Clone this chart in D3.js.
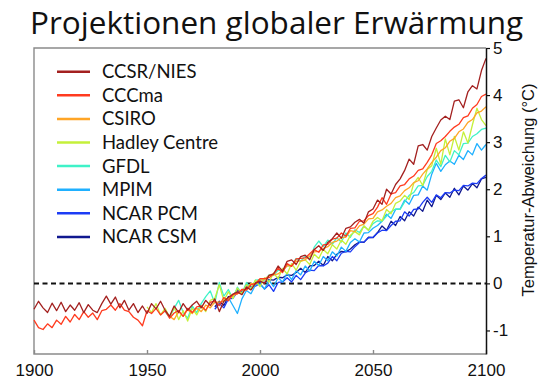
<!DOCTYPE html>
<html>
<head>
<meta charset="utf-8">
<script src="https://cdn.jsdelivr.net/npm/d3@7"></script>
<style>
  body { margin: 0; background: #fff; }
  svg { display: block; }
</style>
</head>
<body>
<div id="chart"></div>
<script>
// model names and colours, legend order
const models = ['CCSR/NIES', 'CCCma', 'CSIRO', 'Hadley Centre', 'GFDL', 'MPIM', 'NCAR PCM', 'NCAR CSM'];
const colors = ['#a3201f', '#ff3b1f', '#ffa526', '#c5f03a', '#3ff2c8', '#1fb0ff', '#1c3cf5', '#10188f'];

// first year of each run, values every 2 years (deg C)
const startYears = [1900, 1900, 1960, 1950, 1958, 1986, 1980, 1980];

const ccsrNies = [
  -0.55, -0.38, -0.52, -0.62, -0.42, -0.58, -0.40, -0.60, -0.46, -0.57,
  -0.41, -0.62, -0.45, -0.57, -0.62, -0.43, -0.27, -0.44, -0.29, -0.52,
  -0.36, -0.57, -0.43, -0.62, -0.48, -0.64, -0.43, -0.54, -0.38, -0.57,
  -0.70, -0.48, -0.62, -0.43, -0.57, -0.46, -0.38, -0.52, -0.36, -0.47,
  -0.33, -0.60, -0.38, -0.30, -0.23, -0.18, -0.24, -0.08, -0.14, 0.00,
  0.05, 0.00, 0.17, 0.20, 0.37, 0.26, 0.47, 0.50, 0.40, 0.57,
  0.60, 0.50, 0.72, 0.80, 0.70, 0.87, 0.95, 1.07, 0.96, 1.17,
  1.20, 1.30, 1.36, 1.28, 1.52, 1.58, 1.77, 1.68, 2.00, 1.90,
  2.10, 2.22, 2.40, 2.64, 2.53, 2.92, 2.95, 2.83, 3.12, 3.30,
  3.47, 3.55, 3.48, 3.87, 3.90, 3.73, 4.07, 4.20, 4.13, 4.52,
  4.78
];
const cccma = [
  -0.78, -0.94, -0.98, -0.86, -0.94, -0.78, -0.87, -0.70, -0.82, -0.66,
  -0.77, -0.60, -0.72, -0.63, -0.77, -0.58, -0.55, -0.46, -0.57, -0.43,
  -0.57, -0.60, -0.72, -0.78, -0.90, -0.58, -0.64, -0.53, -0.67, -0.58,
  -0.74, -0.63, -0.58, -0.70, -0.53, -0.62, -0.50, -0.48, -0.57, -0.40,
  -0.38, -0.47, -0.30, -0.37, -0.23, -0.22, -0.13, -0.14, -0.03, 0.00,
  0.10, 0.10, 0.12, 0.20, 0.32, 0.23, 0.42, 0.36, 0.52, 0.53,
  0.54, 0.63, 0.72, 0.66, 0.82, 0.83, 0.94, 0.96, 1.07, 1.00,
  1.17, 1.18, 1.32, 1.33, 1.44, 1.48, 1.62, 1.82, 1.68, 1.90,
  1.93, 2.07, 2.10, 2.22, 2.28, 2.40, 2.43, 2.57, 2.73, 2.97,
  3.03, 3.12, 3.23, 3.32, 3.38, 3.52, 3.56, 3.72, 3.80, 3.97,
  4.02
];
const csiro = [
  -0.70, -0.77, -0.60, -0.70, -0.56, -0.64, -0.53, -0.60, -0.46, -0.52,
  -0.40, -0.40, -0.38, -0.32, -0.26, -0.22, -0.13, -0.14, 0.00, -0.02,
  0.07, 0.08, 0.17, 0.18, 0.20, 0.28, 0.37, 0.38, 0.47, 0.48,
  0.50, 0.58, 0.67, 0.68, 0.74, 0.78, 0.87, 0.90, 0.97, 0.98,
  1.12, 1.10, 1.22, 1.26, 1.37, 1.38, 1.52, 1.56, 1.64, 1.70,
  1.82, 1.86, 1.97, 2.03, 2.14, 2.18, 2.32, 2.43, 2.57, 2.68,
  2.82, 2.88, 3.02, 3.08, 3.22, 3.28, 3.42, 3.48, 3.62, 3.66,
  3.75
];
const hadley = [
  -0.50, -0.62, -0.43, -0.67, -0.53, -0.72, -0.50, -0.77, -0.58, -0.80,
  -0.53, -0.67, -0.48, -0.60, -0.36, -0.32, -0.03, -0.37, -0.18, -0.32,
  -0.10, -0.22, -0.03, -0.12, 0.07, -0.07, 0.12, 0.03, 0.22, 0.10,
  0.32, 0.20, 0.42, 0.28, 0.47, 0.50, 0.40, 0.62, 0.53, 0.72,
  0.63, 0.82, 0.73, 0.92, 0.83, 1.02, 1.10, 1.03, 1.22, 1.13,
  1.32, 1.40, 1.33, 1.57, 1.48, 1.70, 1.75, 1.87, 1.78, 2.12,
  2.25, 2.08, 2.42, 2.50, 2.87, 2.53, 3.07, 2.73, 3.12, 2.83,
  3.22, 2.98, 3.37, 3.72, 3.48, 3.35
];
const gfdl = [
  -0.60, -0.72, -0.53, -0.36, -0.62, -0.74, -0.48, -0.62, -0.43, -0.28,
  -0.16, -0.42, 0.02, -0.27, -0.13, -0.32, -0.08, -0.22, 0.02, -0.12,
  0.07, 0.08, 0.07, 0.18, 0.17, 0.28, 0.27, 0.38, 0.37, 0.53,
  0.47, 0.58, 0.52, 0.77, 0.90, 0.78, 0.92, 0.83, 0.97, 0.88,
  1.07, 0.98, 1.14, 1.08, 1.22, 1.13, 1.27, 1.33, 1.32, 1.43,
  1.52, 1.58, 1.57, 1.73, 1.87, 1.93, 2.07, 2.08, 2.27, 2.38,
  2.62, 2.48, 2.72, 2.58, 2.82, 2.73, 2.97, 2.98, 3.12, 3.18,
  3.27, 3.30
];
const mpim = [
  -0.30, -0.47, -0.64, -0.33, -0.15, -0.22, -0.03, -0.02, -0.12, 0.07,
  -0.07, 0.12, 0.03, 0.22, 0.08, 0.27, 0.18, 0.37, 0.26, 0.47,
  0.38, 0.57, 0.48, 0.67, 0.58, 0.77, 0.68, 0.87, 0.95, 0.88,
  1.07, 1.08, 1.17, 1.23, 1.32, 1.47, 1.38, 1.57, 1.58, 1.77,
  1.68, 1.87, 1.88, 2.07, 1.98, 2.32, 2.55, 2.38, 2.52, 2.60,
  2.53, 2.72, 2.63, 2.82, 2.73, 2.97, 2.83, 2.95
];
const ncarPcm = [
  -0.55, -0.43, -0.52, -0.33, -0.32, -0.18, -0.17, -0.08, -0.07, -0.06,
  0.00, -0.12, -0.03, -0.17, 0.02, 0.03, 0.12, 0.03, 0.17, 0.08,
  0.22, 0.28, 0.27, 0.38, 0.37, 0.43, 0.57, 0.48, 0.64, 0.68,
  0.67, 0.78, 0.87, 0.88, 0.97, 0.98, 1.07, 1.13, 1.12, 1.23,
  1.32, 1.33, 1.52, 1.43, 1.57, 1.58, 1.72, 1.83, 1.72, 1.88,
  1.82, 1.93, 1.92, 1.98, 1.97, 2.08, 2.07, 2.13, 2.12, 2.23,
  2.30
];
const ncarCsm = [
  -0.50, -0.38, -0.47, -0.28, -0.27, -0.13, -0.22, -0.03, -0.12, 0.02,
  0.03, 0.02, 0.08, 0.07, 0.13, 0.12, 0.18, 0.17, 0.23, 0.32,
  0.23, 0.37, 0.38, 0.47, 0.38, 0.57, 0.48, 0.62, 0.68, 0.67,
  0.73, 0.82, 0.88, 0.87, 0.98, 0.97, 1.08, 1.22, 1.13, 1.32,
  1.23, 1.42, 1.33, 1.52, 1.43, 1.62, 1.53, 1.77, 1.63, 1.87,
  1.78, 1.92, 1.83, 2.02, 1.88, 2.07, 1.98, 2.12, 2.03, 2.22,
  2.25
];
const seriesValues = [ccsrNies, cccma, csiro, hadley, gfdl, mpim, ncarPcm, ncarCsm];

const xTicks = [1900, 1950, 2000, 2050, 2100];
const yTicks = [-1, 0, 1, 2, 3, 4, 5];
const title = 'Projektionen globaler Erwärmung';
const yLabel = 'Temperatur-Abweichung (°C)';

const width = 549, height = 384;
const margin = { top: 48, right: 63, bottom: 30, left: 34 };

const svg = d3.select('#chart')
  .append('svg')
  .attr('width', width)
  .attr('height', height);

const xscale = d3.scaleLinear()
  .domain([1900, 2100])
  .range([margin.left, width - margin.right]);

const yscale = d3.scaleLinear()
  .domain([-1.5, 5])
  .range([height - margin.bottom, margin.top]);

// build {year, value} rows per model
const data = models.map((name, i) => ({
  name: name,
  color: colors[i],
  points: seriesValues[i].map((v, j) => ({ x: startYears[i] + 2 * j, y: v }))
}));

// title
svg.append('text')
  .attr('x', 30)
  .attr('y', 34)
  .style('font-family', '"Open Sans", Lato, sans-serif')
  .style('font-size', '31.5px')
  .attr('fill', '#111')
  .text(title);

// grey frame on top / left / bottom
svg.append('path')
  .attr('d', `M${xscale(2100)},${yscale(5)}H${xscale(1900)}V${yscale(-1.5)}H${xscale(2100)}`)
  .attr('stroke', '#8a8a8a')
  .attr('stroke-width', 1.4)
  .attr('fill', 'none');

// bottom axis, ticks inward
const xAxis = d3.axisBottom(xscale)
  .tickValues(xTicks)
  .tickFormat(d3.format('d'))
  .tickSizeInner(-4)
  .tickSizeOuter(0)
  .tickPadding(10);

const gx = svg.append('g')
  .attr('transform', `translate(0,${yscale(-1.5)})`)
  .call(xAxis);
gx.select('.domain').remove();
gx.selectAll('.tick line').attr('stroke', '#8a8a8a').attr('stroke-width', 1.4);
gx.selectAll('.tick text')
  .style('font-family', '"Liberation Sans", Arial, sans-serif')
  .style('font-size', '17px')
  .attr('fill', '#111');

// zero line
svg.append('line')
  .attr('x1', xscale(1900))
  .attr('x2', xscale(2100))
  .attr('y1', yscale(0))
  .attr('y2', yscale(0))
  .attr('stroke', '#111')
  .attr('stroke-width', 2)
  .attr('stroke-dasharray', '5,3.5');

// model runs, last in legend drawn first
const line = d3.line()
  .x(d => xscale(d.x))
  .y(d => yscale(d.y));

svg.append('g')
  .selectAll('path')
  .data(data.slice().reverse())
  .join('path')
  .attr('d', d => line(d.points))
  .attr('fill', 'none')
  .attr('stroke', d => d.color)
  .attr('stroke-width', 1.3)
  .attr('stroke-linejoin', 'round');

// right axis
const yAxis = d3.axisRight(yscale)
  .tickValues(yTicks)
  .tickFormat(d => d < 0 ? '-' + Math.abs(d) : String(d))
  .tickSizeInner(4)
  .tickSizeOuter(0)
  .tickPadding(3);

const gy = svg.append('g')
  .attr('transform', `translate(${xscale(2100)},0)`)
  .call(yAxis);
gy.select('.domain').attr('stroke', '#111').attr('stroke-width', 1.5);
gy.selectAll('.tick line').attr('stroke', '#111').attr('stroke-width', 1.2);
gy.selectAll('.tick text')
  .style('font-family', '"Liberation Sans", Arial, sans-serif')
  .style('font-size', '17px')
  .attr('fill', '#111');

// y label
svg.append('text')
  .attr('transform', `translate(534,190) rotate(-90)`)
  .attr('text-anchor', 'middle')
  .style('font-family', '"Liberation Sans", Arial, sans-serif')
  .style('font-size', '16.5px')
  .attr('fill', '#111')
  .text(yLabel);

// legend
const legend = svg.append('g')
  .selectAll('g')
  .data(data)
  .join('g')
  .attr('transform', (d, i) => `translate(57,${71.7 + i * 23.6})`);

legend.append('line')
  .attr('x1', 0)
  .attr('x2', 33)
  .attr('stroke', d => d.color)
  .attr('stroke-width', 2.5);

legend.append('text')
  .attr('x', 45)
  .attr('y', 6.5)
  .style('font-family', 'Lato, "Open Sans", sans-serif')
  .style('font-size', '18.5px')
  .attr('fill', '#111')
  .text(d => d.name);
</script>
</body>
</html>
